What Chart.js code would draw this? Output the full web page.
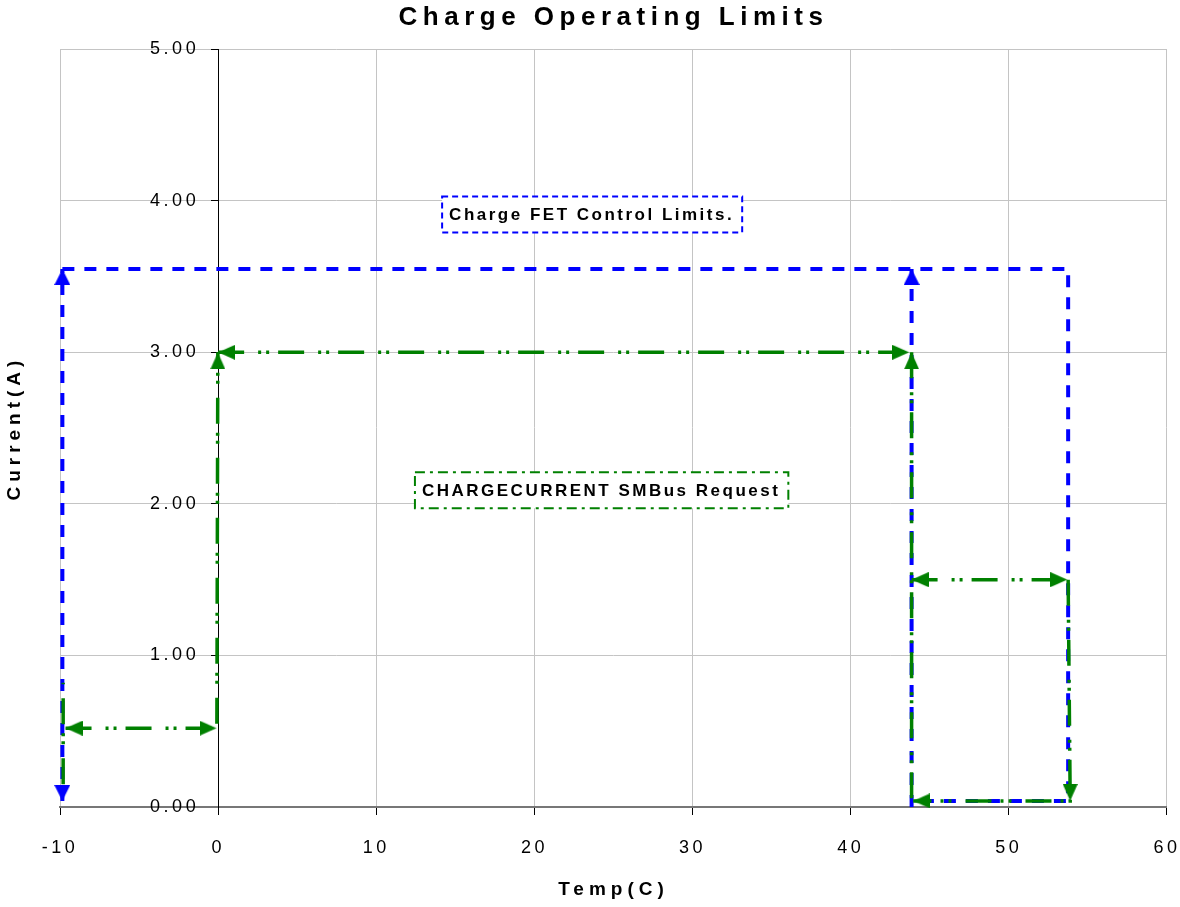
<!DOCTYPE html>
<html>
<head>
<meta charset="utf-8">
<title>Charge Operating Limits</title>
<script src="https://cdn.jsdelivr.net/npm/chart.js@4/dist/chart.umd.min.js"></script>
<style>
  html, body { margin: 0; padding: 0; background: #fff; }
  #wrap { width: 1180px; height: 907px; }
</style>
</head>
<body>
<div id="wrap"><canvas id="limitsChart"></canvas></div>
<script>
const xTicks = [-10, 0, 10, 20, 30, 40, 50, 60];
const yTicks = [0, 1, 2, 3, 4, 5];

// blue - charge FET control limits
const fetLeftX = [-9.85, -9.85];
const fetLeftY = [0.04, 3.55];
const fetLeftHeads = ["down", "up"];

const fetOuterX = [-9.85, 53.75, 53.75, 43.85];
const fetOuterY = [3.55, 3.55, 0.04, 0.04];
const fetOuterHeads = [null, null, null, null];

const fetHotX = [43.85, 43.85];
const fetHotY = [0.0, 3.55];
const fetHotHeads = [null, "up"];

// green - CHARGECURRENT SMBus request
const reqColdX = [-9.65, -0.1];
const reqColdY = [0.52, 0.52];
const reqColdHeads = ["left", "right"];

const reqEdgeX = [-9.8, -9.8];
const reqEdgeY = [0.15, 0.82];
const reqEdgeHeads = [null, null];

const reqRiseX = [-0.08, -0.02];
const reqRiseY = [0.55, 3.0];
const reqRiseHeads = [null, "up"];

const reqTopX = [0.0, 43.7];
const reqTopY = [3.0, 3.0];
const reqTopHeads = ["left", "right"];

const reqHotX = [43.85, 43.85];
const reqHotY = [3.0, 0.04];
const reqHotHeads = ["up", null];

const reqMidX = [43.85, 53.7];
const reqMidY = [1.5, 1.5];
const reqMidHeads = ["left", "right"];

const reqLowX = [53.75, 53.88, 43.95];
const reqLowY = [1.5, 0.04, 0.04];
const reqLowHeads = [null, "down", "left"];

const noteLabels = ["Charge FET Control Limits.", "CHARGECURRENT SMBus Request"];

const FONT = "'Liberation Sans', Arial, sans-serif";
const BLUE = "#0000ff";
const GREEN = "#008000";
const ROT = { up: 0, right: 90, down: 180, left: 270 };

function makeArrow(color, len, width) {
    const c = document.createElement("canvas");
    c.width = width;
    c.height = len * 2;
    const g = c.getContext("2d");
    g.fillStyle = color;
    g.beginPath();
    g.moveTo(width / 2, len);
    g.lineTo(width, len * 2);
    g.lineTo(0, len * 2);
    g.closePath();
    g.fill();
    return c;
}

const arrows = {};
arrows[BLUE] = makeArrow(BLUE, 16, 16);
arrows[GREEN] = makeArrow(GREEN, 17, 15);

function segment(color, dash, width, xs, ys, heads) {
    return {
        data: xs.map((x, i) => ({ x: x, y: ys[i] })),
        showLine: true,
        yAxisID: "y",
        borderColor: color,
        backgroundColor: color,
        borderWidth: width,
        borderDash: dash,
        borderJoinStyle: "miter",
        pointRadius: heads.map(h => h ? 8 : 0),
        pointHoverRadius: 0,
        pointStyle: heads.map(() => arrows[color]),
        rotation: heads.map(h => ROT[h] || 0),
        clip: false
    };
}

const blueDash = [12, 10];
const greenDash = [26, 14, 3, 5, 3, 9];

const datasets = [
    segment(GREEN, greenDash, 3.5, reqColdX, reqColdY, reqColdHeads),
    segment(GREEN, greenDash, 3.5, reqEdgeX, reqEdgeY, reqEdgeHeads),
    segment(GREEN, greenDash, 3.5, reqRiseX, reqRiseY, reqRiseHeads),
    segment(GREEN, greenDash, 3.5, reqTopX, reqTopY, reqTopHeads),
    segment(GREEN, greenDash, 3.5, reqHotX, reqHotY, reqHotHeads),
    segment(GREEN, greenDash, 3.5, reqMidX, reqMidY, reqMidHeads),
    segment(GREEN, greenDash, 3.5, reqLowX, reqLowY, reqLowHeads),
    segment(BLUE, blueDash, 4, fetLeftX, fetLeftY, fetLeftHeads),
    segment(BLUE, blueDash, 4, fetOuterX, fetOuterY, fetOuterHeads),
    segment(BLUE, blueDash, 4, fetHotX, fetHotY, fetHotHeads)
];

// canvas letter spacing (and a small shift) for the wide-set Excel look
function spaced(fn, sp, dx, dy) {
    return function () {
        const c = this.ctx;
        const old = c.letterSpacing;
        c.save();
        c.translate(dx || 0, dy || 0);
        c.letterSpacing = sp;
        fn.apply(this, arguments);
        c.letterSpacing = old;
        c.restore();
    };
}

// label shifts: the y axis sits at x=0 so its labels need moving left,
// the x labels are moved down instead of using padding (padding also widens the right margin)
const labelShift = { x: [0, 19], y: [-19, 0], yTitle: [0, 0] };

const spacingPlugin = {
    id: "spacing",
    beforeDraw(chart) {
        Object.values(chart.scales).forEach(s => {
            if (s._spaced) return;
            const sh = labelShift[s.id] || [0, 0];
            s.drawLabels = spaced(s.drawLabels, "3.5px", sh[0], sh[1]);
            s.drawTitle = spaced(s.drawTitle, "5px");
            s._spaced = true;
        });
        const t = chart.titleBlock;
        if (t && !t._spaced) {
            t.draw = spaced(t.draw, "5.5px");
            t._spaced = true;
        }
    }
};

const notePlugin = {
    id: "notes",
    afterDatasetsDraw(chart, args, opts) {
        const ctx = chart.ctx;
        const xs = chart.scales.x;
        const ys = chart.scales.y;
        opts.items.forEach(n => {
            ctx.save();
            ctx.font = "bold 17px " + FONT;
            ctx.letterSpacing = "2.5px";
            const w = ctx.measureText(n.text).width + 15;
            const h = 36;
            const left = xs.getPixelForValue(n.x) - w / 2;
            const top = ys.getPixelForValue(n.y) - h / 2;
            ctx.fillStyle = "#fff";
            ctx.fillRect(left, top, w, h);
            ctx.strokeStyle = n.color;
            ctx.lineWidth = 2;
            ctx.setLineDash(n.dash);
            ctx.strokeRect(left, top, w, h);
            ctx.fillStyle = "#000";
            ctx.textBaseline = "middle";
            ctx.textAlign = "left";
            ctx.fillText(n.text, left + 7, top + h / 2 + 1);
            ctx.restore();
        });
    }
};

Chart.defaults.font.family = FONT;
Chart.defaults.color = "#000";

new Chart(document.getElementById("limitsChart"), {
    type: "scatter",
    data: { datasets: datasets },
    options: {
        responsive: true,
        maintainAspectRatio: false,
        animation: false,
        events: [],
        layout: { padding: 0 },
        plugins: {
            legend: { display: false },
            tooltip: { enabled: false },
            title: {
                display: true,
                text: "Charge Operating Limits",
                fullSize: false,
                color: "#000",
                font: { size: 26, weight: "bold" },
                padding: { top: 2, bottom: 16 }
            },
            notes: {
                items: [
                    { text: noteLabels[0], x: 23.65, y: 3.91, color: BLUE, dash: [6, 4] },
                    { text: noteLabels[1], x: 24.25, y: 2.09, color: GREEN, dash: [10, 5, 3, 5] }
                ]
            }
        },
        scales: {
            x: {
                type: "linear",
                position: "bottom",
                min: -10,
                max: 60,
                afterBuildTicks: s => { s.ticks = xTicks.map(v => ({ value: v })); },
                afterFit: s => { s.height = 100; },
                grid: {
                    color: c => c.tick && c.tick.value === 0 ? "#000" : "#c4c4c4",
                    tickLength: 8,
                    tickColor: "#000"
                },
                border: { color: "#777", width: 2 },
                ticks: {
                    font: { size: 18 },
                    padding: 3,
                    maxRotation: 0,
                    autoSkip: false
                },
                title: {
                    display: true,
                    text: "Temp(C)",
                    font: { size: 19, weight: "bold" },
                    padding: { top: 22, bottom: 6 }
                }
            },
            y: {
                type: "linear",
                position: { x: 0 },
                min: 0,
                max: 5,
                afterBuildTicks: s => { s.ticks = yTicks.map(v => ({ value: v })); },
                grid: {
                    color: c => c.tick && c.tick.value === 0 ? "rgba(0,0,0,0)" : "#c4c4c4",
                    tickLength: 7,
                    tickColor: "#000"
                },
                border: { color: "#000", width: 1 },
                ticks: {
                    font: { size: 18 },
                    padding: 12,
                    callback: v => Number(v).toFixed(2)
                }
            },
            yTitle: {
                type: "linear",
                position: "left",
                grid: { display: false },
                border: { display: false },
                ticks: { display: false },
                title: {
                    display: true,
                    text: "Current(A)",
                    font: { size: 19, weight: "bold" },
                    padding: { top: 3, bottom: 0 }
                },
                afterFit: s => { s.width = 60; }
            }
        }
    },
    plugins: [spacingPlugin, notePlugin]
});
</script>
</body>
</html>
